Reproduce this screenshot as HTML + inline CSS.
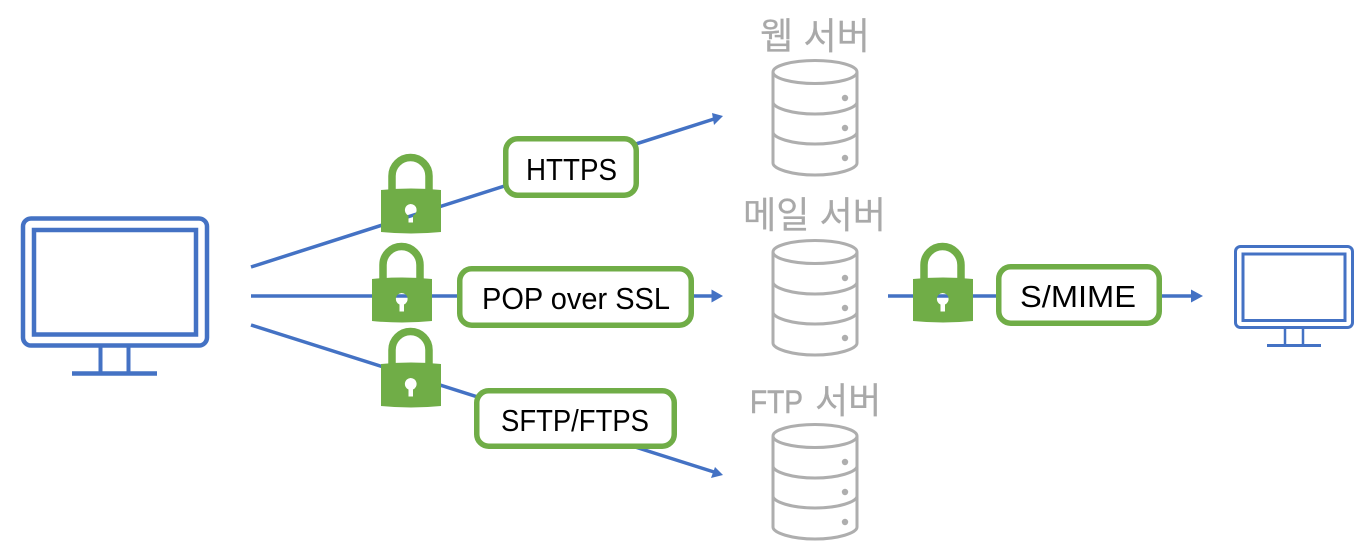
<!DOCTYPE html>
<html lang="ko">
<head>
<meta charset="utf-8">
<title>Diagram</title>
<style>
html,body{margin:0;padding:0;background:#fff;width:1366px;height:552px;overflow:hidden}
svg{display:block}
.l{font-family:"Liberation Sans","Noto Sans CJK KR",sans-serif;font-size:31px;fill:#000}
.g{font-family:"Liberation Sans","Noto Sans CJK KR",sans-serif;font-size:37px;fill:#a9a9a9;stroke:#a9a9a9;stroke-width:.2}
</style>
</head>
<body>
<svg width="1366" height="552" viewBox="0 0 1366 552" xmlns="http://www.w3.org/2000/svg">
<defs>
<g id="db" fill="none" stroke="#aeaeae" stroke-width="3">
<ellipse cx="815" cy="72" rx="42" ry="11.5"/>
<path d="M773 72V163C773 169 792 175 815 175C838 175 857 169 857 163V72"/>
<path d="M773 102C773 108 792 114 815 114C838 114 857 108 857 102"/>
<path d="M773 132C773 138 792 144 815 144C838 144 857 138 857 132"/>
<circle cx="845" cy="98" r="3.200" fill="#aeaeae" stroke="none"/>
<circle cx="845" cy="128" r="3.200" fill="#aeaeae" stroke="none"/>
<circle cx="845" cy="158" r="3.200" fill="#aeaeae" stroke="none"/>
</g>
<g id="lock">
<path d="M392 191V176A18.500 18.500 0 0 1 429 176V191" fill="none" stroke="#70ad47" stroke-width="7.500"/>
<path fill-rule="evenodd" fill="#70ad47" d="M381 190Q411 187 441 190V232Q411 235 381 232ZM410.500 204A6 6 0 0 0 408.500 215.500V222.500H413V215.500A6 6 0 0 0 410.500 204Z"/>
</g>
</defs>

<g stroke="#4472c4" stroke-width="3.500" fill="none">
<line x1="251" y1="267" x2="714" y2="119"/>
<line x1="251" y1="296" x2="712" y2="296"/>
<line x1="251" y1="325" x2="714" y2="472"/>
<line x1="888" y1="296" x2="1192" y2="296"/>
</g>
<g fill="#4472c4">
<path d="M723 116L712 113L714 125Z"/>
<path d="M723 296L711.500 289.500V302.500Z"/>
<path d="M723 475L715 467L711 478Z"/>
<path d="M1203 296L1191 289.500V302.500Z"/>
</g>

<!-- large monitor -->
<g fill="none" stroke="#4472c4">
<rect x="23" y="218.500" width="184" height="127" rx="8" stroke-width="4.500"/>
<rect x="34" y="230" width="162" height="104.500" stroke-width="4.500"/>
<path d="M100.500 347V372M128.500 347V372" stroke-width="4"/>
<path d="M72 373.500H157" stroke-width="4.500"/>
</g>

<!-- small monitor -->
<g fill="none" stroke="#4472c4">
<rect x="1235.500" y="246.500" width="117" height="81" rx="5" stroke-width="3"/>
<rect x="1243" y="254" width="102" height="66.500" stroke-width="3"/>
<path d="M1285 329V345M1303 329V345" stroke-width="2.500"/>
<path d="M1267 345.500H1321" stroke-width="3"/>
</g>

<!-- servers -->
<use href="#db"/>
<use href="#db" y="180"/>
<use href="#db" y="364"/>
<text class="g" x="760" y="49" textLength="110" lengthAdjust="spacingAndGlyphs">웹 서버</text>
<text class="g" x="743" y="228" textLength="143" lengthAdjust="spacingAndGlyphs">메일 서버</text>
<text class="g" y="413"><tspan x="750" font-size="32" stroke-width=".5" textLength="53" lengthAdjust="spacingAndGlyphs">FTP</tspan> <tspan x="815" font-size="36">서버</tspan></text>

<!-- locks -->
<use href="#lock"/>
<use href="#lock" x="-9" y="89"/>
<use href="#lock" y="174"/>
<use href="#lock" x="532" y="89"/>

<!-- labels -->
<g fill="#fff" stroke="#70ad47" stroke-width="5.500">
<rect x="505.750" y="138.750" width="130.500" height="56.500" rx="12"/>
<rect x="459.750" y="268.750" width="231.500" height="56.500" rx="12"/>
<rect x="476.750" y="390.750" width="197.500" height="55.500" rx="12"/>
<rect x="998.750" y="266.750" width="160.500" height="56.500" rx="12"/>
</g>
<text class="l" x="526" y="180" textLength="91" lengthAdjust="spacingAndGlyphs">HTTPS</text>
<text class="l" x="482" y="309" textLength="188" lengthAdjust="spacingAndGlyphs">POP over SSL</text>
<text class="l" x="501" y="431" textLength="148" lengthAdjust="spacingAndGlyphs">SFTP/FTPS</text>
<text class="l" x="1020" y="307" textLength="116" lengthAdjust="spacingAndGlyphs">S/MIME</text>
</svg>
</body>
</html>
